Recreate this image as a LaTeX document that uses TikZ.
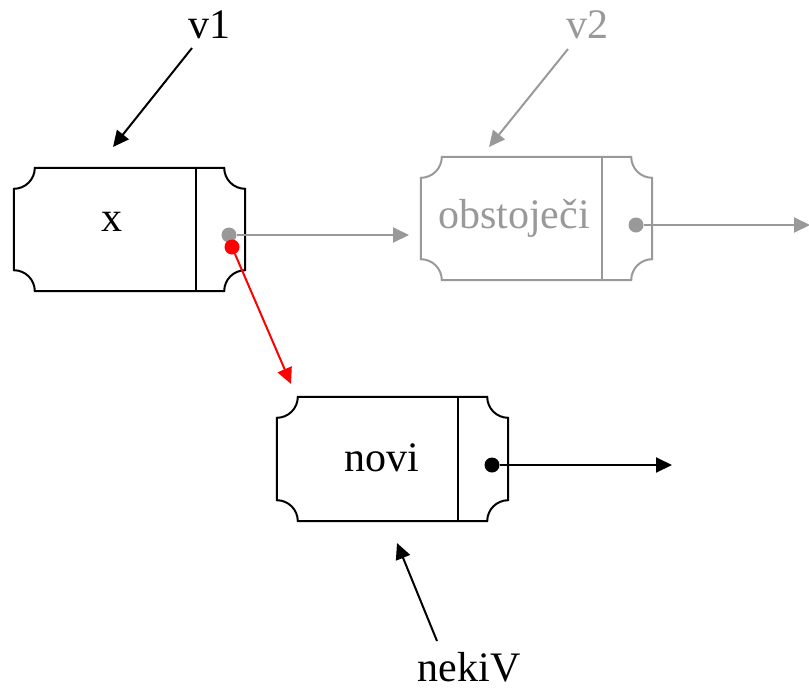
\documentclass[tikz,border=0pt]{standalone}
\usepackage{fontspec}
\setmainfont{Liberation Serif}
\usetikzlibrary{arrows.meta}
\definecolor{ghost}{gray}{0.6}
\newcommand\ticket[3][]{%
  \draw[#1,line width=2pt] ([xshift=21pt]#2.north west) -- ([xshift=-21pt]#2.north east)
    arc[start angle=180,end angle=270,radius=21pt] -- ([yshift=21pt]#2.south east)
    arc[start angle=90,end angle=180,radius=21pt] -- ([xshift=21pt]#2.south west)
    arc[start angle=0,end angle=90,radius=21pt] -- ([yshift=-21pt]#2.north west)
    arc[start angle=270,end angle=360,radius=21pt] -- cycle;
  \draw[#1,line width=2pt] ([xshift=-#3]#2.north east) -- ([xshift=-#3]#2.south east);}
\begin{document}
\begin{tikzpicture}[x=1pt,y=-1pt,
  box/.style={rectangle,minimum width=231pt,minimum height=123pt,inner sep=0pt},
  lbl/.style={inner sep=0pt,anchor=base,font=\fontsize{42}{50}\selectfont},
  ptr/.style={circle,fill=#1,minimum size=15pt,inner sep=0pt},
  conn/.style={line width=2pt,-{Triangle[length=16pt,width=15pt]}}]
\useasboundingbox (0,0) rectangle (809,691);
% boxes
\node[box] (bx) at (129.5,229.5) {};
\node[box] (bo) at (536.5,218.5) {};
\node[box,minimum height=124pt] (bn) at (392.5,459) {};
\ticket{bx}{49pt}
\ticket[ghost]{bo}{50pt}
\ticket{bn}{50pt}
% texts
\node[lbl] (tx) at (112,231) {x};
\node[lbl,text=ghost] (to) at (514,228) {obstoječi};
\node[lbl] (tn) at (382,471) {novi};
\node[lbl] (v1) at (209,38) {v1};
\node[lbl,text=ghost] (v2) at (587,38) {v2};
\node[lbl] (nv) at (469,681) {nekiV};
% coordinates
\coordinate (v1s) at (192,48);
\coordinate (v1e) at (113,147);
\coordinate (v2s) at (568,49);
\coordinate (v2e) at (489,147);
\coordinate (nvs) at (437,641);
\coordinate (nve) at (397,543);
\coordinate (xge) at (409,235);
\coordinate (xre) at (291,384);
\coordinate (oge) at (810,225);
\coordinate (nbe) at (672,465);
% pointer dots
\node[ptr=ghost] (xg) at (229,235) {};
\node[ptr=ghost] (og) at (636,225) {};
\node[ptr=black] (nb) at (492,465) {};
\node[ptr=red] (xr) at (232,247) {};
% connectors
\draw[conn] (v1s) -- (v1e);
\draw[conn,ghost] (v2s) -- (v2e);
\draw[conn] (nvs) -- (nve);
\draw[conn,ghost] (xg) -- (xge);
\draw[conn,ghost] (og) -- (oge);
\draw[conn] (nb) -- (nbe);
\draw[conn,red] (xr) -- (xre);
\end{tikzpicture}
\end{document}
